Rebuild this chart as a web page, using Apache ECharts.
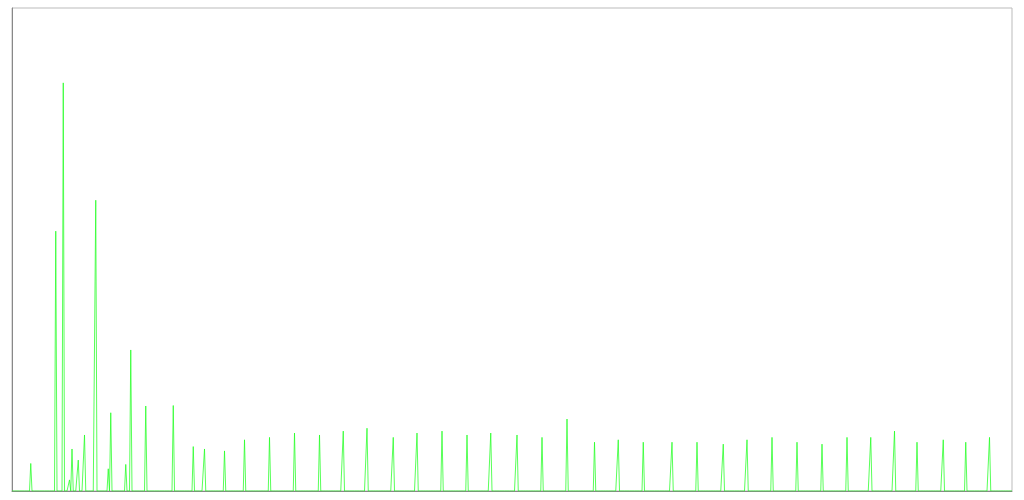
<!DOCTYPE html>
<html>
<head>
<meta charset="utf-8">
<script src="https://cdn.jsdelivr.net/npm/echarts@6/dist/echarts.min.js"></script>
<style>
  html, body { margin: 0; padding: 0; background: #fff; }
  #main { width: 1024px; height: 500px; }
</style>
</head>
<body>
<div id="main"></div>
<script>
// number of samples along the x axis
var sampleCount = 801;
// sample index of every spike and its height (everything else sits at 0)
var spikeAt = [15, 35, 41, 46, 48, 53, 58, 67, 77, 79, 91, 95, 107,
  129, 145, 154, 170, 186, 206, 226, 246, 265, 284, 305, 324, 344,
  364, 383, 404, 424, 444, 466, 485, 505, 528, 548, 569, 588, 608,
  628, 648, 668, 687, 706, 724, 745, 763, 782];
var spikeValue = [5.7, 53.8, 84.5, 2.3, 8.7, 6.4, 11.6, 60.2, 4.6, 16.2, 5.5, 29.2, 17.6,
  17.7, 9.2, 8.7, 8.3, 10.6, 11.1, 12.0, 11.6, 12.4, 13.0, 11.1, 12.0, 12.4,
  11.6, 12.0, 11.6, 11.1, 14.9, 10.1, 10.6, 10.1, 10.1, 10.1, 9.7, 10.6, 11.1,
  10.1, 9.7, 11.1, 11.1, 12.4, 10.1, 10.6, 10.1, 11.1];
var yMax = 100;

var categories = [];
var values = [];
for (var i = 0; i < sampleCount; i++) {
  categories.push(i);
  values.push(0);
}
for (var k = 0; k < spikeAt.length; k++) {
  values[spikeAt[k]] = spikeValue[k];
}

var chart = echarts.init(document.getElementById('main'));
chart.setOption({
  animation: false,
  grid: {
    left: 12, right: 12, top: 8, bottom: 9,
    show: true,
    borderColor: '#bbb',
    borderWidth: 1
  },
  xAxis: {
    type: 'category',
    data: categories,
    boundaryGap: false,
    axisLine: { lineStyle: { color: '#888' } },
    axisTick: { show: false },
    axisLabel: { show: false },
    splitLine: { show: false }
  },
  yAxis: {
    type: 'value',
    min: 0,
    max: yMax,
    axisLine: { show: true, lineStyle: { color: '#888' } },
    axisTick: { show: false },
    axisLabel: { show: false },
    splitLine: { show: false }
  },
  series: [{
    type: 'line',
    data: values,
    symbol: 'none',
    silent: true,
    z: 1,
    lineStyle: { color: '#22ff22', width: 1, opacity: 0.75 }
  }]
});
</script>
</body>
</html>
